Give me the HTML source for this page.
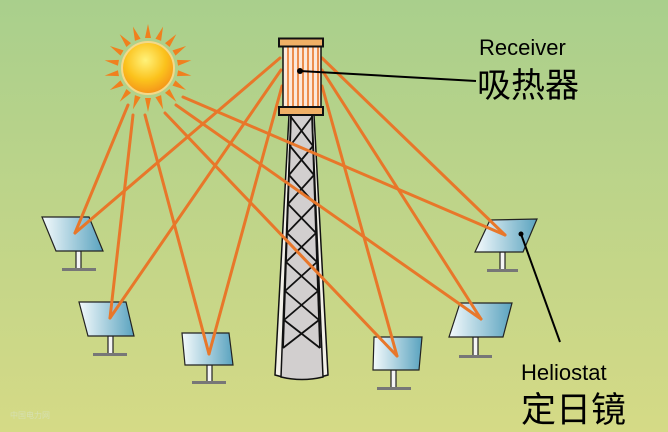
<!DOCTYPE html>
<html><head><meta charset="utf-8"><style>
html,body{margin:0;padding:0}
body{width:668px;height:432px;overflow:hidden}
svg{display:block}
text{font-family:"Liberation Sans","Noto Sans CJK SC",sans-serif;fill:#000}
</style></head><body>
<svg width="668" height="432" viewBox="0 0 668 432" xmlns="http://www.w3.org/2000/svg">
<defs>
<linearGradient id="bg" x1="0" y1="0" x2="0" y2="1">
<stop offset="0" stop-color="#a9cf8c"/><stop offset="1" stop-color="#d5da86"/>
</linearGradient>
<linearGradient id="mir" x1="0" y1="0" x2="1" y2="0">
<stop offset="0" stop-color="#f4fafc"/><stop offset="1" stop-color="#5aa3bf"/>
</linearGradient>
<radialGradient id="sun" cx="0.45" cy="0.35" r="0.65">
<stop offset="0" stop-color="#fff27a"/><stop offset="0.6" stop-color="#fbc21c"/><stop offset="1" stop-color="#f5941a"/>
</radialGradient>
</defs>
<rect width="668" height="432" fill="url(#bg)"/>

<!-- tower -->
<path d="M289,115 L314,115 L328,375 Q301,383 275,375 Z" fill="#f2f0e8" stroke="#111" stroke-width="1.5"/>
<path d="M291,115 L312,115 L323,377 Q302,382 281,377 Z" fill="#d2cfcf" stroke="#111" stroke-width="1.5"/>
<g stroke="#111" stroke-width="1.8" fill="none">
<line x1="291" y1="115" x2="283" y2="348"/>
<line x1="312" y1="115" x2="320" y2="348"/>
<path d="M291,117 L313,146 M312,117 L290,146 M290,146 L314,175 M313,146 L289,175 M289,175 L315,204 M314,175 L288,204 M288,204 L316,233 M315,204 L287,233 M287,233 L317,262 M316,233 L286,262 M286,262 L318,291 M317,262 L285,291 M285,291 L319,320 M318,291 L284,320 M284,320 L320,348 M319,320 L283,348"/>
</g>

<!-- heliostats -->
<g stroke="#222" stroke-width="1.2">
<g><rect x="76" y="251" width="5" height="18" fill="#f4f4f4"/><rect x="62" y="268" width="34" height="3" fill="#777" stroke="none"/>
<polygon points="42,217 89,217 103,251 56,251" fill="url(#mir)"/></g>
<g><rect x="108" y="336" width="5" height="18" fill="#f4f4f4"/><rect x="93" y="353" width="34" height="3" fill="#777" stroke="none"/>
<polygon points="79,302 126,302 134,336 88,336" fill="url(#mir)"/></g>
<g><rect x="207" y="365" width="5" height="17" fill="#f4f4f4"/><rect x="192" y="381" width="34" height="3" fill="#777" stroke="none"/>
<polygon points="182,333 229,333 233,365 185,365" fill="url(#mir)"/></g>
<g><rect x="391" y="370" width="5" height="18" fill="#f4f4f4"/><rect x="377" y="387" width="34" height="3" fill="#777" stroke="none"/>
<polygon points="374,337 422,337 419,370 373,370" fill="url(#mir)"/></g>
<g><rect x="473" y="337" width="5" height="19" fill="#f4f4f4"/><rect x="459" y="355" width="33" height="3" fill="#777" stroke="none"/>
<polygon points="460,303 512,303 503,337 449,337" fill="url(#mir)"/></g>
<g><rect x="500" y="252" width="5" height="18" fill="#f4f4f4"/><rect x="487" y="269" width="31" height="3" fill="#777" stroke="none"/>
<polygon points="490,220 537,219 523,252 475,252" fill="url(#mir)"/></g>
</g>

<!-- rays -->
<g stroke="#e8772a" stroke-width="3" fill="none" stroke-linecap="round">
<line x1="128" y1="105" x2="75" y2="233"/>
<line x1="133" y1="115" x2="110" y2="318"/>
<line x1="145" y1="115" x2="209" y2="354"/>
<line x1="165" y1="113" x2="397" y2="356"/>
<line x1="176" y1="105" x2="481" y2="319"/>
<line x1="183" y1="97" x2="505" y2="235"/>
<line x1="75" y1="233" x2="280" y2="58"/>
<line x1="110" y1="318" x2="281" y2="70"/>
<line x1="209" y1="354" x2="282" y2="86"/>
<line x1="397" y1="356" x2="322" y2="86"/>
<line x1="481" y1="319" x2="322" y2="70"/>
<line x1="505" y1="235" x2="322" y2="58"/>
</g>

<!-- sun -->
<g transform="translate(148,68)" fill="#f0801e">
<g id="r"><polygon points="-3,-30 3,-30 0,-44"/></g>
<use href="#r" transform="rotate(20)"/><use href="#r" transform="rotate(40)"/><use href="#r" transform="rotate(60)"/>
<use href="#r" transform="rotate(80)"/><use href="#r" transform="rotate(100)"/><use href="#r" transform="rotate(120)"/>
<use href="#r" transform="rotate(140)"/><use href="#r" transform="rotate(160)"/><use href="#r" transform="rotate(180)"/>
<use href="#r" transform="rotate(200)"/><use href="#r" transform="rotate(220)"/><use href="#r" transform="rotate(240)"/>
<use href="#r" transform="rotate(260)"/><use href="#r" transform="rotate(280)"/><use href="#r" transform="rotate(300)"/>
<use href="#r" transform="rotate(320)"/><use href="#r" transform="rotate(340)"/>
<circle r="26" fill="url(#sun)" stroke="#f3d98a" stroke-width="2"/>
</g>

<!-- receiver -->
<rect x="283" y="46" width="38" height="62" fill="#fbe8da" stroke="#111" stroke-width="1.5"/>
<g stroke="#e8772a" stroke-width="1.6">
<line x1="288" y1="47" x2="288" y2="107"/><line x1="293" y1="47" x2="293" y2="107"/>
<line x1="298" y1="47" x2="298" y2="107"/><line x1="303" y1="47" x2="303" y2="107"/>
<line x1="308" y1="47" x2="308" y2="107"/><line x1="313" y1="47" x2="313" y2="107"/>
<line x1="318" y1="47" x2="318" y2="107"/>
</g>
<rect x="279" y="38.5" width="44" height="8" fill="#f0b066" stroke="#111" stroke-width="2"/>
<rect x="279" y="107" width="44" height="8" fill="#f0b066" stroke="#111" stroke-width="2"/>

<!-- pointers -->
<g stroke="#000" stroke-width="2">
<line x1="300" y1="71" x2="476" y2="81"/>
<line x1="521" y1="234" x2="560" y2="342"/>
</g>
<circle cx="300" cy="71" r="3" fill="#000"/>
<circle cx="521" cy="234" r="2.5" fill="#000"/>

<text x="479" y="55" font-size="22">Receiver</text>
<text x="477" y="97" font-size="34">吸热器</text>
<text x="521" y="380" font-size="22">Heliostat</text>
<text x="521" y="422" font-size="35">定日镜</text>
<text x="10" y="418" font-size="8" style="fill:#d6e0b0">中国电力网</text>
</svg>
</body></html>
